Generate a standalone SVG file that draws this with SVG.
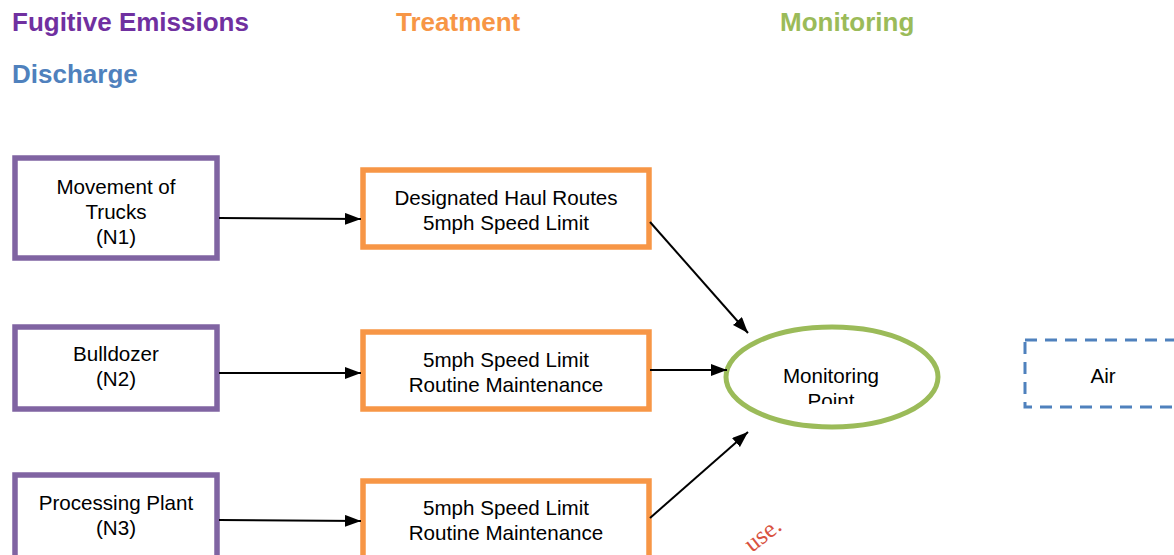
<svg xmlns="http://www.w3.org/2000/svg" width="1174" height="555" viewBox="0 0 1174 555">
<style>
.title{font-family:"Liberation Sans",Arial,sans-serif;font-weight:bold;font-size:26px}
.lbl{font-family:"Liberation Sans",Arial,sans-serif;font-size:20.6px;fill:#000;text-anchor:middle}
.src{fill:#fff;stroke:#8064A2;stroke-width:5.5}
.trt{fill:#fff;stroke:#F79646;stroke-width:5.5}
.mon{fill:#fff;stroke:#9BBB59;stroke-width:5}
.dis{fill:#fff;stroke:#4F81BD;stroke-width:3;stroke-dasharray:12 8}
.conn line{stroke:#000;stroke-width:2;marker-end:url(#ah)}
.wm{font-family:"Liberation Serif","Times New Roman",serif;font-size:25px;fill:#D9533F}
</style>
<defs>
<marker id="ah" viewBox="0 0 16 12" refX="16" refY="6" markerWidth="16" markerHeight="12" markerUnits="userSpaceOnUse" orient="auto">
<path d="M0,0 L16,6 L0,12 z" fill="#000"/>
</marker>
<clipPath id="monclip"><rect x="720" y="320" width="230" height="84"/></clipPath>
</defs>
<rect width="1174" height="555" fill="#fff"/>
<text class="title" x="12" y="31" fill="#7030A0">Fugitive Emissions</text>
<text class="title" x="396" y="31" fill="#F79646">Treatment</text>
<text class="title" x="780" y="31" fill="#9BBB59">Monitoring</text>
<text class="title" x="12" y="83" fill="#4F81BD">Discharge</text>

<g id="n1"><rect class="src" x="15" y="158" width="202" height="100"/>
<text class="lbl" x="116" y="194">Movement of</text><text class="lbl" x="116" y="219">Trucks</text><text class="lbl" x="116" y="244">(N1)</text></g>
<g id="n2"><rect class="src" x="15" y="327" width="202" height="82"/>
<text class="lbl" x="116" y="361">Bulldozer</text><text class="lbl" x="116" y="386">(N2)</text></g>
<g id="n3"><rect class="src" x="15" y="475" width="202" height="90"/>
<text class="lbl" x="116" y="510">Processing Plant</text><text class="lbl" x="116" y="535">(N3)</text></g>

<g id="t1"><rect class="trt" x="363" y="170" width="286" height="77"/>
<text class="lbl" x="506" y="205">Designated Haul Routes</text><text class="lbl" x="506" y="230">5mph Speed Limit</text></g>
<g id="t2"><rect class="trt" x="363" y="332" width="286" height="77"/>
<text class="lbl" x="506" y="367">5mph Speed Limit</text><text class="lbl" x="506" y="392">Routine Maintenance</text></g>
<g id="t3"><rect class="trt" x="363" y="481" width="286" height="84"/>
<text class="lbl" x="506" y="515">5mph Speed Limit</text><text class="lbl" x="506" y="540">Routine Maintenance</text></g>

<g id="m1"><ellipse class="mon" cx="832" cy="377" rx="106" ry="50"/>
<g clip-path="url(#monclip)"><text class="lbl" x="831" y="383">Monitoring</text><text class="lbl" x="831" y="408">Point</text></g></g>

<g id="d1"><rect class="dis" x="1025" y="340" width="170" height="67"/>
<text class="lbl" x="1103" y="383">Air</text></g>

<g class="conn">
<line x1="219" y1="218" x2="361" y2="219"/>
<line x1="219" y1="373" x2="361" y2="373"/>
<line x1="219" y1="520" x2="361" y2="521"/>
<line x1="650" y1="222" x2="748" y2="333"/>
<line x1="650" y1="370" x2="727" y2="370"/>
<line x1="650" y1="518" x2="748" y2="432"/>
</g>

<text class="wm" transform="translate(752,553) rotate(-38)">use.</text>
</svg>
